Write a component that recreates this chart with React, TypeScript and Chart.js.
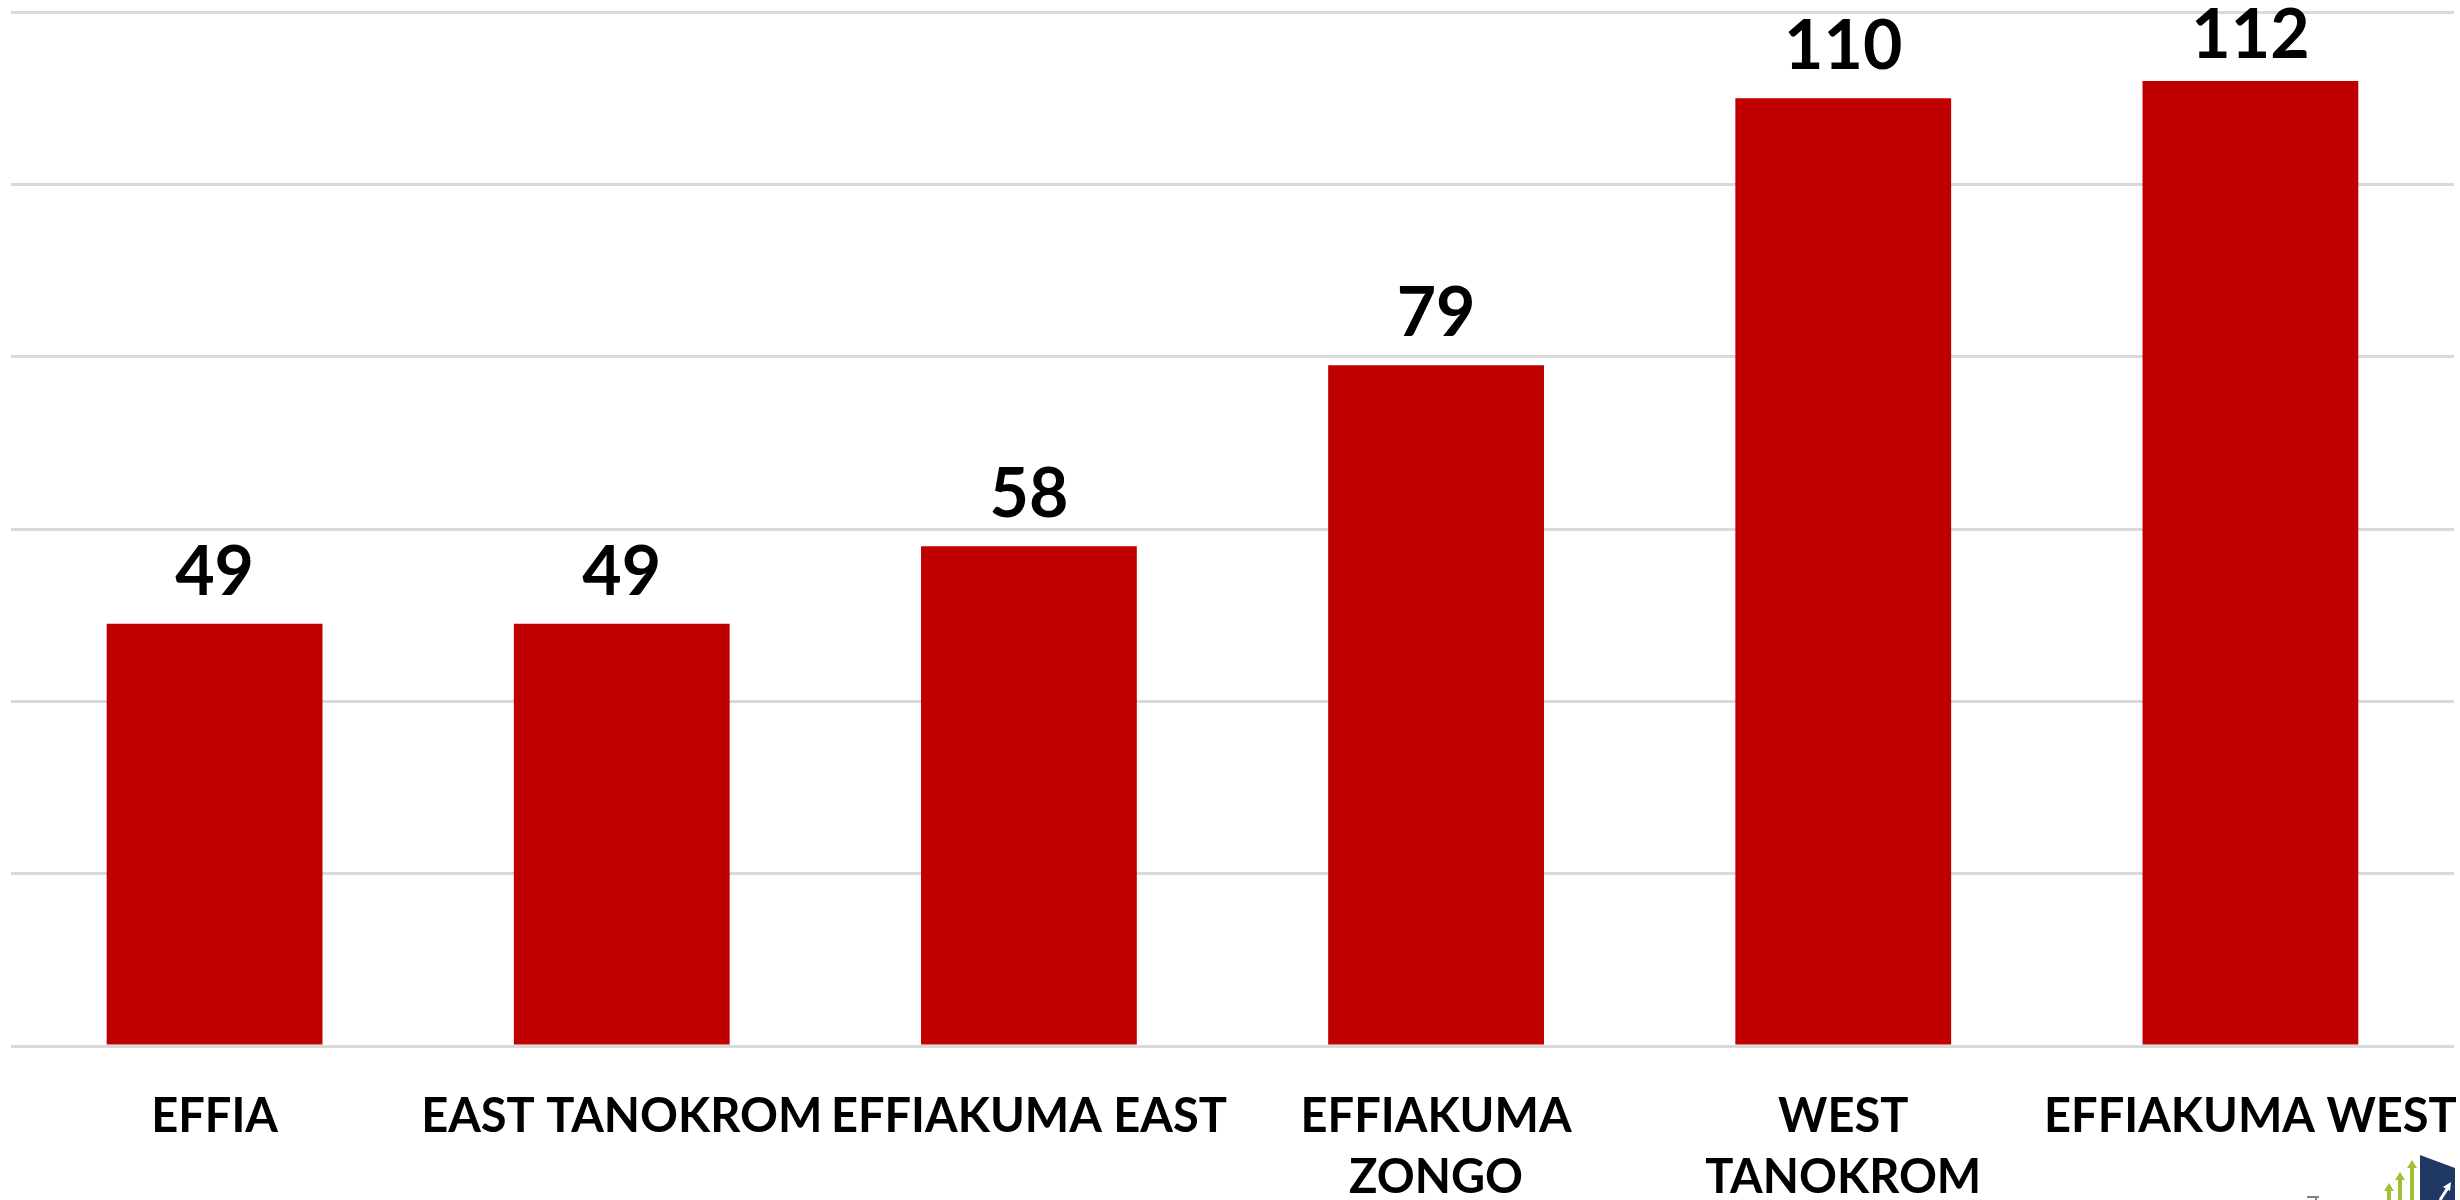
import React, { useEffect, useRef } from "react";
import { Chart, registerables } from "chart.js";

Chart.register(...registerables);

const categories: (string | string[])[] = [
  "EFFIA",
  "EAST TANOKROM",
  "EFFIAKUMA EAST",
  ["EFFIAKUMA", "ZONGO"],
  ["WEST", "TANOKROM"],
  "EFFIAKUMA WEST",
];
const values: number[] = [49, 49, 58, 79, 110, 112];
const yMax = 120;
const yStep = 20;

const BAR_COLOR = "#C00000";
const FONT = "Lato, 'Open Sans', sans-serif";

const valueLabels = {
  id: "valueLabels",
  afterDatasetsDraw(chart: any) {
    const ctx = chart.ctx;
    const meta = chart.getDatasetMeta(0);
    ctx.save();
    ctx.font = `bold 68px ${FONT}`;
    ctx.fillStyle = "#000000";
    ctx.textAlign = "center";
    ctx.textBaseline = "alphabetic";
    meta.data.forEach((bar: any, i: number) => {
      const y = Math.max(bar.y - 29, chart.chartArea.top + 46);
      ctx.fillText(String(values[i]), bar.x, y);
    });
    ctx.restore();
  },
};

const logo = {
  id: "logo",
  afterDraw(chart: any) {
    const ctx = chart.ctx;
    ctx.save();
    ctx.fillStyle = "#1F3864";
    ctx.beginPath();
    ctx.moveTo(2420, 1155);
    ctx.lineTo(2455, 1168);
    ctx.lineTo(2455, 1200);
    ctx.lineTo(2420, 1200);
    ctx.closePath();
    ctx.fill();
    ctx.strokeStyle = "#ffffff";
    ctx.lineWidth = 3;
    ctx.beginPath();
    ctx.moveTo(2440, 1200);
    ctx.lineTo(2449, 1186);
    ctx.stroke();
    ctx.fillStyle = "#ffffff";
    ctx.beginPath();
    ctx.moveTo(2451, 1182);
    ctx.lineTo(2443, 1187);
    ctx.lineTo(2450, 1191);
    ctx.closePath();
    ctx.fill();
    ctx.fillStyle = "#A2C037";
    const arrows = [
      [2389, 1183],
      [2400, 1172],
      [2412, 1160],
    ];
    arrows.forEach(([x, top]) => {
      ctx.fillRect(x - 2, top + 7, 4, 1200 - top - 7);
      ctx.beginPath();
      ctx.moveTo(x, top);
      ctx.lineTo(x - 5, top + 8);
      ctx.lineTo(x + 5, top + 8);
      ctx.closePath();
      ctx.fill();
    });
    ctx.fillStyle = "#808080";
    ctx.fillRect(2307, 1196, 12, 2);
    ctx.fillRect(2315, 1196, 2, 4);
    ctx.restore();
  },
};

export default function App() {
  const canvasRef = useRef<HTMLCanvasElement | null>(null);

  useEffect(() => {
    if (!canvasRef.current) return;
    const chart = new Chart(canvasRef.current, {
      type: "bar",
      data: {
        labels: categories,
        datasets: [
          {
            data: values,
            backgroundColor: BAR_COLOR,
            borderWidth: 0,
            categoryPercentage: 1,
            barPercentage: 0.53,
          },
        ],
      },
      options: {
        responsive: false,
        maintainAspectRatio: false,
        animation: false,
        layout: { padding: { left: 11, right: 6, top: 12, bottom: 0 } },
        plugins: {
          legend: { display: false },
          tooltip: { enabled: false },
          title: { display: false },
        },
        scales: {
          x: {
            grid: { display: false, drawTicks: false },
            border: { display: false },
            ticks: {
              color: "#000000",
              font: { family: FONT, size: 47, weight: "bold", lineHeight: 1.3 },
              padding: 40,
              maxRotation: 0,
              minRotation: 0,
              autoSkip: false,
            },
            afterFit(scale: any) {
              scale.height = 154;
              scale.paddingLeft = 0;
              scale.paddingRight = 0;
            },
          },
          y: {
            min: 0,
            max: yMax,
            ticks: { display: false, stepSize: yStep },
            grid: { color: "#D9D9D9", lineWidth: 3, drawTicks: false },
            border: { display: false },
            afterFit(scale: any) {
              scale.width = 0;
              scale.paddingTop = 0;
              scale.paddingBottom = 0;
            },
          },
        },
      },
      plugins: [valueLabels, logo],
    });
    return () => chart.destroy();
  }, []);

  return (
    <div style={{ position: "fixed", left: 0, top: 0, width: 2460, height: 1200, background: "#fff" }}>
      <canvas ref={canvasRef} width={2460} height={1200} style={{ display: "block" }} />
    </div>
  );
}
